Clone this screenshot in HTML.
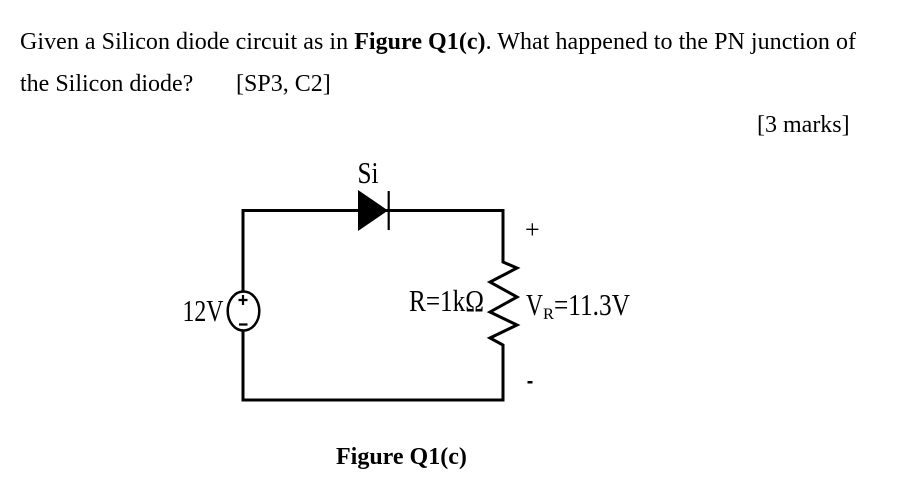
<!DOCTYPE html>
<html>
<head>
<meta charset="utf-8">
<style>
html,body{margin:0;padding:0;background:#fff;width:907px;height:481px;overflow:hidden}
svg{position:absolute;left:0;top:0}
text{font-family:"Liberation Serif",serif;fill:#000}
</style>
</head>
<body>
<svg width="907" height="481" viewBox="0 0 907 481" xmlns="http://www.w3.org/2000/svg">
<text x="20" y="49" font-size="24" textLength="836" lengthAdjust="spacing" xml:space="preserve">Given a Silicon diode circuit as in <tspan font-weight="bold">Figure Q1(c)</tspan>. What happened to the PN junction of</text>
<text x="20" y="91" font-size="24">the Silicon diode?</text>
<text x="236" y="91" font-size="24">[SP3, C2]</text>
<text x="757" y="132" font-size="24">[3 marks]</text>

<path d="M243 291V210.500H503V262L517 268L490 282L517 297L490 312L517 325L490 338L503 345V400H243V331" fill="none" stroke="#000" stroke-width="3" stroke-linejoin="miter"/>
<ellipse cx="243.500" cy="311" rx="15.800" ry="19.500" fill="#fff" stroke="#000" stroke-width="2.500"/>
<path d="M243 295V305M238.500 300H247.500M239 324.500H247.500" stroke="#000" stroke-width="2.200" fill="none"/>
<polygon points="358,190 388,210.500 358,231" fill="#000"/>
<path d="M388.700 191V230" stroke="#000" stroke-width="2.200"/>

<text x="357.500" y="183" font-size="31" textLength="21" lengthAdjust="spacingAndGlyphs">Si</text>
<text x="182.500" y="321" font-size="31" textLength="41" lengthAdjust="spacingAndGlyphs">12V</text>
<text x="409" y="311" font-size="31" textLength="75" lengthAdjust="spacingAndGlyphs">R=1kΩ</text>
<text x="525" y="238" font-size="26">+</text>
<text x="526" y="315" font-size="31" textLength="17" lengthAdjust="spacingAndGlyphs">V</text>
<text x="543" y="319" font-size="16" textLength="11" lengthAdjust="spacingAndGlyphs">R</text>
<text x="554" y="315" font-size="31" textLength="76" lengthAdjust="spacingAndGlyphs">=11.3V</text>
<rect x="527.500" y="381" width="5" height="2.500" fill="#000"/>
<text x="336" y="464" font-size="24" font-weight="bold">Figure Q1(c)</text>
</svg>
</body>
</html>
